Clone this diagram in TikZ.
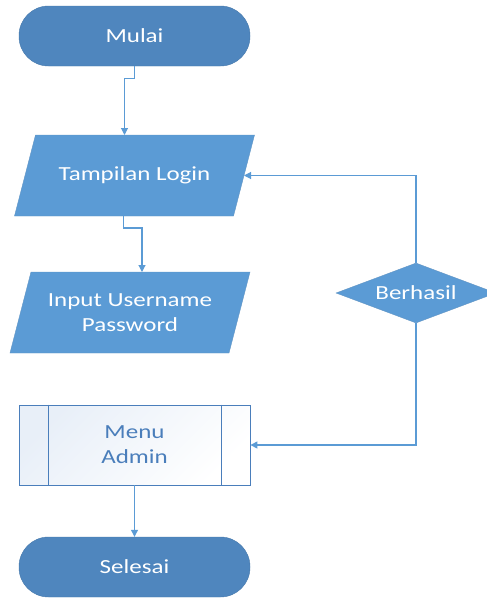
\documentclass[tikz,border=0pt]{standalone}
\usepackage{fontspec}
\setmainfont{Carlito}[FakeStretch=1.25]
\usetikzlibrary{shapes.geometric,arrows.meta,positioning,backgrounds}

\definecolor{termblue}{RGB}{79,134,190}
\definecolor{boxblue}{RGB}{91,155,213}
\definecolor{lineblue}{RGB}{91,155,213}
\definecolor{menublue}{RGB}{74,126,187}
\definecolor{menufill}{RGB}{232,239,248}

\tikzset{every picture/.style={line width=1.1pt}}
\tikzset{
  terminal/.style={rectangle, rounded corners=29.5pt, fill=termblue, draw=termblue!90!black, line width=0.4pt,
    minimum width=231pt, minimum height=60pt, text=white, font=\fontsize{20}{25}\selectfont},
  iobox/.style={rectangle, minimum width=219pt, minimum height=81pt, inner sep=0pt, outer sep=0pt,
    text=white, align=center, font=\fontsize{20}{25}\selectfont},
  ioshape/.style={fill=boxblue, draw=boxblue!80!gray, line width=0.4pt},
  decide/.style={diamond, fill=boxblue, draw=boxblue!80!gray, line width=0.4pt, minimum width=160pt,
    minimum height=60pt, inner sep=0pt, label={[text=white, font=\fontsize{20}{25}\selectfont]center:#1}},
  subproc/.style={rectangle, draw=menublue, line width=0.8pt, top color=menufill, bottom color=white,
    shading angle=45, minimum width=231pt, minimum height=80pt, text=menublue, align=center,
    font=\fontsize{20}{25}\selectfont},
  flow/.style={draw=lineblue, line width=1.1pt, -{Triangle[width=7pt,length=7pt]}},
}

\begin{document}
\begin{tikzpicture}[x=1pt,y=1pt,yscale=-1,xscale=1]
	\useasboundingbox (0,0) rectangle (487,600);
	\clip (0,0) rectangle (487,600);
	
	% Terminal nodes
	\node [terminal] (mulai) at (134.5,36) {Mulai};
	\node [terminal] (selesai) at (134.5,567) {Selesai};
	% Input / output
	\node [iobox] (login) at (134.5,175.5) {Tampilan Login};
	\node [iobox] (input) at (130,312.5) {Input Username\\Password};
	\begin{scope}[on background layer]
		\foreach \n in {login,input}
			\draw [ioshape] ([xshift=10.5]\n.north west) -- ([xshift=10.5]\n.north east)
				-- ([xshift=-10.5]\n.south east) -- ([xshift=-10.5]\n.south west) -- cycle;
	\end{scope}
	% Decision
	\node [decide=Berhasil] (cek) at (416,293) {};
	% Predefined process
	\node [subproc] (menu) at (134.5,445) {Menu\\Admin};
	\draw [menublue, line width=0.8pt] ([xshift=30]menu.north west) -- ([xshift=30]menu.south west);
	\draw [menublue, line width=0.8pt] ([xshift=-29]menu.north east) -- ([xshift=-29]menu.south east);
	
	% Connectors
	\draw [flow] (mulai.south) -- ++(0,12) -| ([xshift=-10]login.north);
	\draw [flow] ([xshift=-11]login.south) -- ++(0,12) -| ([xshift=12]input.north);
	\draw [flow] (cek.north) |- (login.east);
	\draw [flow] (cek.south) |- (menu.east);
	\draw [flow] (menu.south) -- (selesai.north);
	
\end{tikzpicture}
\end{document}
